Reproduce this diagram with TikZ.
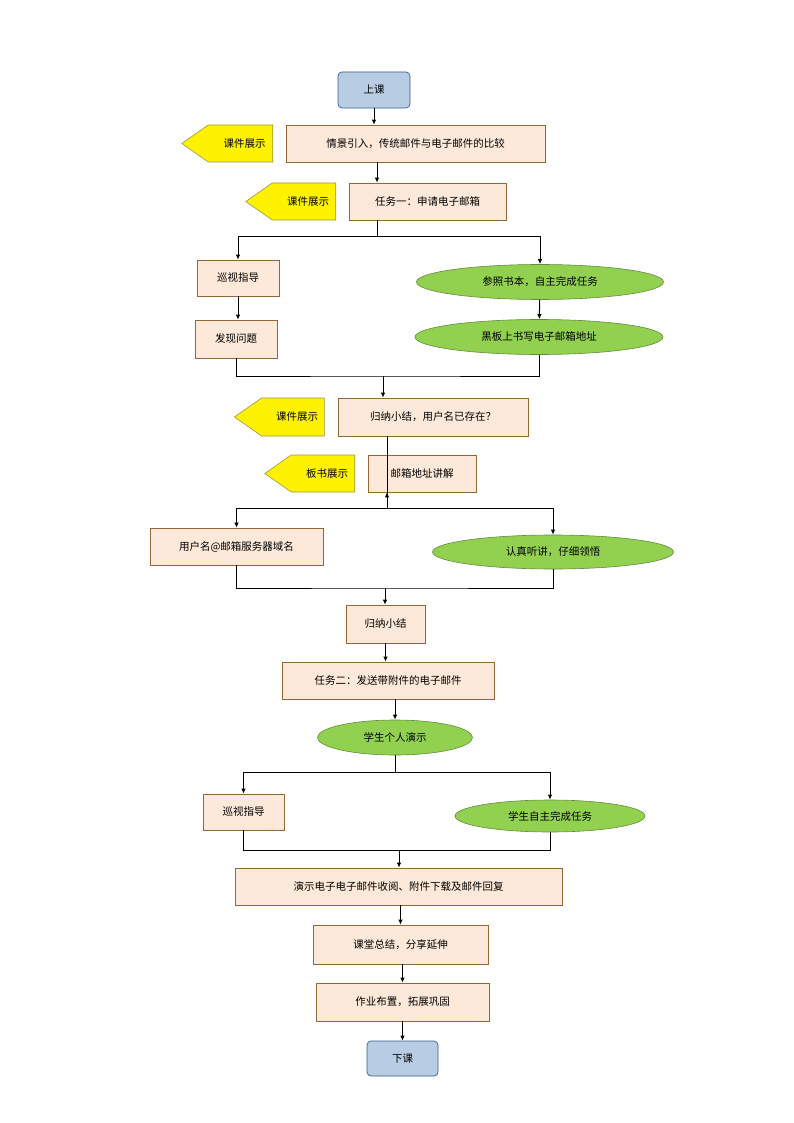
\documentclass[tikz,border=0pt]{standalone}
\usepackage{fontspec}
\setmainfont{Noto Sans CJK SC}
\usetikzlibrary{shapes.geometric,shapes.symbols,arrows.meta}
\begin{document}
\begin{tikzpicture}[x=1pt,y=-1pt,
  every node/.style={font=\fontsize{10.5pt}{12pt}\selectfont, inner sep=0pt},
  box/.style={draw=brown!70!black, fill=orange!12, line width=0.6pt},
  tag/.style={draw=yellow!55!black, fill=yellow, signal, signal to=west, signal pointer angle=70, line width=0.6pt},
  oval/.style={draw=green!40!black, fill=green!55!black!45!lime!70!white, ellipse, line width=0.6pt},
  term/.style={draw=blue!50!black, fill=blue!25!cyan!20!white, rounded corners=4pt, line width=0.7pt},
  ar/.style={-{Latex[length=5pt,width=4.5pt]}, line width=1pt},
  ln/.style={line width=1pt}]
\useasboundingbox (0,0) rectangle (794,1123);
\tikzset{oval/.append style={fill={rgb,255:red,146;green,208;blue,80}, draw={rgb,255:red,100;green,140;blue,60}}}
\tikzset{box/.append style={fill={rgb,255:red,253;green,233;blue,217}, draw={rgb,255:red,152;green,102;blue,52}}}
\tikzset{term/.append style={fill={rgb,255:red,184;green,204;blue,228}, draw={rgb,255:red,56;green,93;blue,138}}}

\node[term, minimum width=72, minimum height=36] (start) at (374,90) {上课};
\node[tag, minimum width=91, minimum height=37] (t1) at (240.5,143.5) {\hspace*{8pt}课件展示};
\node[box, minimum width=259, minimum height=37] (b1) at (415.5,143.5) {情景引入，传统邮件与电子邮件的比较};
\node[tag, minimum width=90, minimum height=37] (t2) at (304,201.5) {\hspace*{8pt}课件展示};
\node[box, minimum width=157, minimum height=37] (b2) at (427.5,201.5) {任务一：申请电子邮箱};
\node[box, minimum width=82, minimum height=36] (l1) at (238,278) {巡视指导};
\node[box, minimum width=82, minimum height=38] (l2) at (236,339) {发现问题};
\node[oval, minimum width=247, minimum height=35] (r1) at (540,282) {参照书本，自主完成任务};
\node[oval, minimum width=248, minimum height=35] (r2) at (539,337) {黑板上书写电子邮箱地址};
\node[tag, minimum width=90, minimum height=38] (t3) at (293,417) {\hspace*{8pt}课件展示};
\node[box, minimum width=190, minimum height=38] (b3) at (433,417) {归纳小结，用户名已存在？};
\node[tag, minimum width=90, minimum height=37] (t4) at (323,473.5) {\hspace*{8pt}板书展示};
\node[box, minimum width=108, minimum height=37] (b4) at (422,473.5) {邮箱地址讲解};
\node[box, minimum width=173, minimum height=37] (l3) at (236.5,546.5) {用户名@邮箱服务器域名};
\node[oval, minimum width=241, minimum height=34] (r3) at (553,552) {认真听讲，仔细领悟};
\node[box, minimum width=79, minimum height=38] (b5) at (385.5,624) {归纳小结};
\node[box, minimum width=212, minimum height=37] (b6) at (388,680.5) {任务二：发送带附件的电子邮件};
\node[oval, minimum width=155, minimum height=35] (e1) at (395,737.5) {学生个人演示};
\node[box, minimum width=81, minimum height=36] (l4) at (243.5,812) {巡视指导};
\node[oval, minimum width=190, minimum height=32] (r4) at (550,816) {学生自主完成任务};
\node[box, minimum width=327, minimum height=37] (b7) at (398.5,886.5) {演示电子电子邮件收阅、附件下载及邮件回复};
\node[box, minimum width=175, minimum height=39] (b8) at (400.5,944.5) {课堂总结，分享延伸};
\node[box, minimum width=173, minimum height=38] (b9) at (402.5,1002) {作业布置，拓展巩固};
\node[term, minimum width=71, minimum height=35] (end) at (402.5,1058.5) {下课};

\coordinate (s1) at (377,237);
\coordinate (s2) at (387,508);
\coordinate (s3) at (395,772);
\coordinate (m1) at (383,376);
\coordinate (m2) at (385,588);
\coordinate (m3) at (399,850);

\draw[ar] (start) -- (start|-b1.north);
\draw[ar] (b1.south-|377,0) -- (b2.north-|377,0);
\draw[ln] (b2.south-|s1) -- (s1);
\draw[ar] (s1) -| (l1.north);
\draw[ar] (s1) -| (r1.north);
\draw[ar] (l1) -- (l1|-l2.north);
\draw[ar] (r1) -- (r2);
\draw[ln] (l2.south) |- (m1) -| (r2.south);
\draw[ar] (m1) -- (m1|-b3.north);
\draw[ar] (b3.south-|387,0) -- (b4.south-|387,0) ++(0,0);
\draw[ln] (b4.south-|s2) -- (s2);
\draw[ar] (s2) -| (l3.north);
\draw[ar] (s2) -| (r3.north);
\draw[ln] (l3.south) |- (m2) -| (r3.south);
\draw[ar] (m2) -- (m2|-b5.north);
\draw[ar] (b5) -- (b5|-b6.north);
\draw[ar] (b6.south-|e1) -- (e1.north);
\draw[ln] (e1.south) -- (s3);
\draw[ar] (s3) -| (l4.north);
\draw[ar] (s3) -| (r4.north);
\draw[ln] (l4.south) |- (m3) -| (r4.south);
\draw[ar] (m3) -- (m3|-b7.north);
\draw[ar] (b7.south-|400.5,0) -- (b8.north-|400.5,0);
\draw[ar] (b8.south-|402.5,0) -- (b9.north-|402.5,0);
\draw[ar] (b9.south-|end) -- (end.north);
\end{tikzpicture}
\end{document}
